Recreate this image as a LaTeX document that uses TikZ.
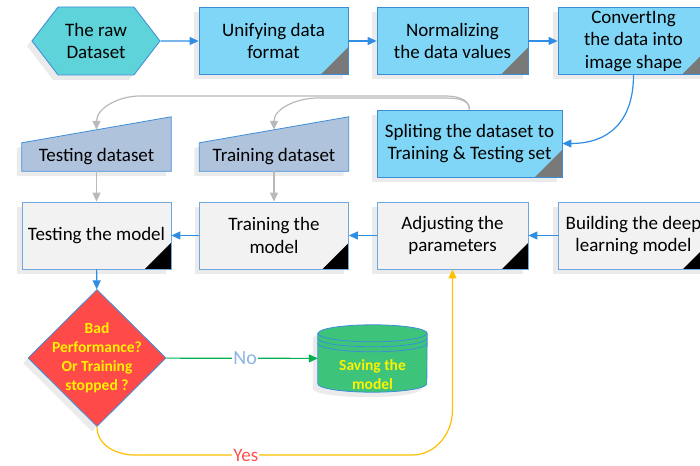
\documentclass[tikz,border=0pt]{standalone}
\usepackage{fontspec}
\setmainfont{Carlito}
\usetikzlibrary{arrows.meta,chains,positioning,shapes.symbols,shapes.geometric,shadows,backgrounds,calc}
\definecolor{flowblue}{HTML}{2F8DE4}
\definecolor{lineblue}{HTML}{3C8DD8}
\definecolor{paleblue}{HTML}{6FA8DC}
\definecolor{skyfill}{HTML}{7FD6F6}
\definecolor{tealfill}{HTML}{5ED3D9}
\definecolor{setfill}{HTML}{B0C3DD}
\definecolor{stepfill}{HTML}{F2F2F2}
\definecolor{badred}{HTML}{FF4A4A}
\definecolor{savegreen}{HTML}{3DC47A}
\definecolor{nogreen}{HTML}{00B050}
\definecolor{yescol}{HTML}{FFC000}
\definecolor{nocol}{HTML}{8DB4E2}
\definecolor{yesred}{HTML}{FF5050}
\tikzset{>={Triangle[length=9pt,width=8pt]},
         every join/.style={->,flowblue,line width=1.2pt},
         softshadow/.style={drop shadow={shadow xshift=-5pt,shadow yshift=-5pt,opacity=.08,fill=black}},
         boxtext/.style={font=\fontsize{19}{22.5}\selectfont,align=center,inner sep=0pt},
         topbox/.style={boxtext,draw=lineblue,fill=skyfill,line width=.8pt,
           minimum width=151pt,minimum height=67pt,softshadow,
           path picture={\fill[gray!95!black] (path picture bounding box.south east)
             -- ++(-27pt,0) -- ++(27pt,27pt) -- cycle;}},
         modelbox/.style={boxtext,draw=paleblue,fill=stepfill,line width=.8pt,
           minimum width=151pt,minimum height=67pt,softshadow,
           path picture={\fill[black] (path picture bounding box.south east)
             -- ++(-26pt,0) -- ++(26pt,26pt) -- cycle;}},
         rawdata/.style={boxtext,signal,signal to=west and east,signal pointer angle=105,
           draw=lineblue,fill=tealfill,line width=.8pt,minimum width=128pt,minimum height=68pt,softshadow},
         setbox/.style={boxtext,minimum width=149pt,minimum height=28pt},
         setshape/.style={draw=lineblue,fill=setfill,line width=.8pt,softshadow},
         decision/.style={diamond,draw=lineblue,fill=badred,line width=.8pt,
           minimum width=138pt,minimum height=137pt,inner sep=0pt,softshadow},
         yellowtext/.style={font=\fontsize{15.5}{19}\selectfont\bfseries,text=yellow,align=center,inner sep=0pt},
         cylshape/.style={draw=lineblue,fill=savegreen,line width=.8pt},
         greyflow/.style={->,gray!55,line width=1.2pt},
         flowline/.style={->,flowblue,line width=1.2pt},
         noflow/.style={->,nogreen,line width=1.2pt},
         yesflow/.style={->,yescol,line width=1.2pt},
         notext/.style={font=\fontsize{20}{24}\selectfont,text=nocol,fill=white,inner sep=1pt},
         yestext/.style={font=\fontsize{19}{24}\selectfont,text=yesred,fill=white,inner sep=1pt}}

\begin{document}
\begin{tikzpicture}[x=1pt,y=1pt]
  \useasboundingbox (0,0) rectangle (700,465);
  \clip (0,0) rectangle (700,465);
  % preparing the data
  \node[rawdata] (raw) at (96,424) {The raw\\Dataset};
  \node[topbox,minimum width=149pt] (unify) at (273.5,424) {Unifying data\\format};
  \node[topbox] (norm) at (452.5,424) {Normalizing\\the data values};
  \node[topbox] (conv) at (633.5,424) {ConvertIng\\the data into\\image shape};
  \node[topbox,minimum width=185pt] (split) at (469.5,321.5) {Spliting the dataset to\\Training \& Testing set};
  % the two sets
  \node[setbox] (tst) at (96.5,308) {Testing dataset};
  \node[setbox] (trn) at (274,308) {Training dataset};
  \coordinate (tst-roof) at ($(tst.north)+(0,13pt)$);
  \coordinate (trn-roof) at ($(trn.north)+(0,13pt)$);
  \begin{scope}[on background layer]
    \filldraw[setshape] (tst.south west) -- (tst.south east) -- ([yshift=26pt]tst.north east) -- (tst.north west) -- cycle;
    \filldraw[setshape] (trn.south west) -- (trn.south east) -- ([yshift=26pt]trn.north east) -- (trn.north west) -- cycle;
  \end{scope}
  % the model
  \node[modelbox,minimum width=149pt] (tstm) at (96.5,229.5) {Testing the model};
  \node[modelbox,minimum width=149pt] (trnm) at (274,229.5) {Training the\\model};
  \node[modelbox] (adj) at (452.5,229.5) {Adjusting the\\parameters};
  \node[modelbox] (build) at (633.5,229.5) {Building the deep\\learning model};
  \node[decision,label={[yellowtext]center:{Bad\\Performance?\\Or Training\\stopped ?}}] (dec) at (97,107) {};
  \node[minimum width=109pt,minimum height=67pt,inner sep=0pt,
        label={[yellowtext,yshift=-16pt]center:{Saving the\\model}}] (save) at (372.5,106.5) {};
  \begin{scope}[on background layer]
    \filldraw[cylshape,softshadow] ([yshift=-8.5pt]save.north west) -- ([yshift=8.5pt]save.south west)
      arc[start angle=180,end angle=360,x radius=54.5pt,y radius=8.5pt]
      -- ([yshift=-8.5pt]save.north east)
      arc[start angle=0,end angle=180,x radius=54.5pt,y radius=8.5pt] -- cycle;
    \foreach \dy in {8.5,13.5,18.5}
      \draw[cylshape,fill=none] ([yshift=-\dy pt]save.north west)
        arc[start angle=180,end angle=360,x radius=54.5pt,y radius=8.5pt];
  \end{scope}
  \begin{scope}[start chain]
    \chainin (raw);
    \chainin (unify) [join];
    \chainin (norm) [join];
    \chainin (conv) [join];
  \end{scope}
  \draw[flowline] (conv.south) to[out=-90,in=0,looseness=1.2] (split.east);
  \draw[greyflow] (split.north) to[out=90,in=0] (445,369) -- (140,369) to[out=180,in=90] (tst-roof);
  \draw[greyflow] (split.north) to[out=90,in=0] (443,367) -- (318,367) to[out=180,in=90] (trn-roof);
  \draw[greyflow] (tst) -- (tstm);
  \draw[greyflow] (trn) -- (trnm);
  \begin{scope}[start chain]
    \chainin (build);
    \chainin (adj) [join];
    \chainin (trnm) [join];
    \chainin (tstm) [join];
    \chainin (dec) [join];
  \end{scope}
  \draw[noflow] (dec) -- node[notext,pos=.52] {No} (save);
  \draw[yesflow] (dec.south) to[out=-90,in=180] (135,10) -- node[yestext,pos=.4] {Yes} (412,10)
    to[out=0,in=-90] (452.5,55) -- (adj.south);
\end{tikzpicture}
\end{document}
